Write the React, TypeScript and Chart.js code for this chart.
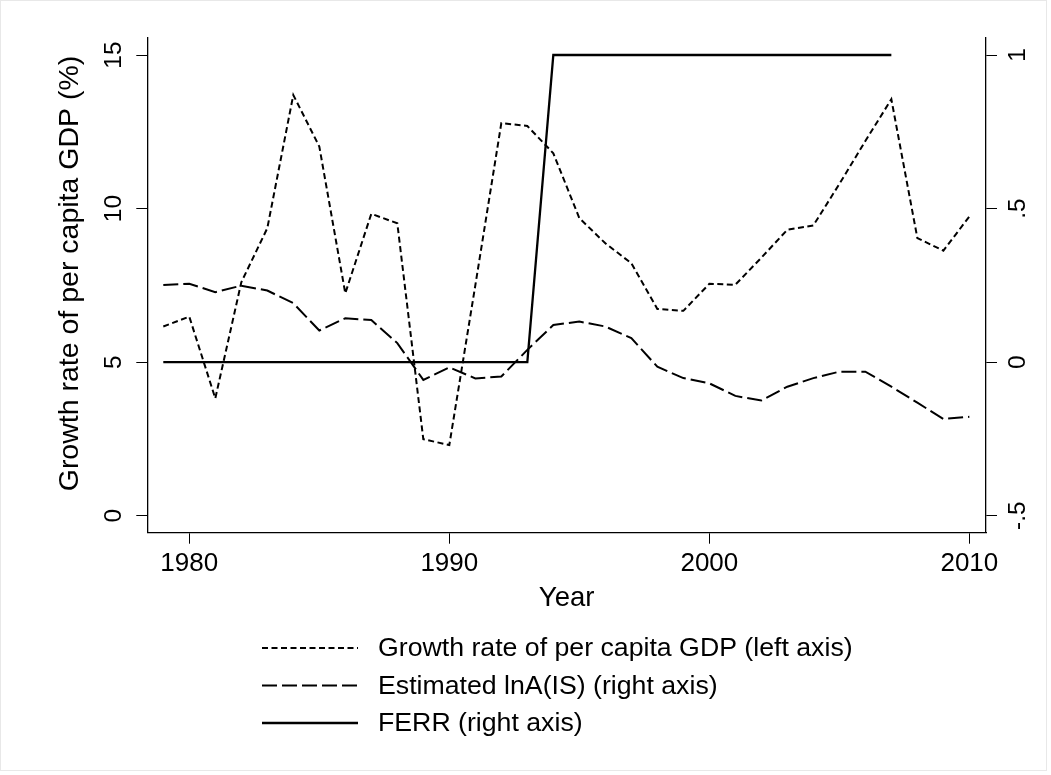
import React, { useEffect, useRef } from "react";
import { Chart, registerables } from "chart.js";

Chart.register(...registerables);

const years = [
  1979, 1980, 1981, 1982, 1983, 1984, 1985, 1986, 1987, 1988, 1989, 1990, 1991, 1992, 1993, 1994,
  1995, 1996, 1997, 1998, 1999, 2000, 2001, 2002, 2003, 2004, 2005, 2006, 2007, 2008, 2009, 2010,
];
const growthGDP = [
  6.16, 6.48, 3.82, 7.6, 9.36, 13.7, 12.02, 7.24, 9.83, 9.52, 2.49, 2.3, 7.5, 12.78, 12.69, 11.8,
  9.69, 8.87, 8.22, 6.73, 6.67, 7.55, 7.52, 8.4, 9.31, 9.45, 10.8, 12.2, 13.56, 9.04, 8.63, 9.74,
];
const lnAIS = [
  0.251, 0.255, 0.228, 0.249, 0.233, 0.192, 0.103, 0.143, 0.137, 0.062, -0.058, -0.017, -0.053, -0.047,
  0.04, 0.121, 0.132, 0.116, 0.078, -0.015, -0.052, -0.069, -0.11, -0.125, -0.08, -0.052, -0.031, -0.031,
  -0.08, -0.132, -0.185, -0.178,
];
const ferr = [
  0, 0, 0, 0, 0, 0, 0, 0, 0, 0, 0, 0, 0, 0, 0, 1, 1, 1, 1, 1, 1, 1, 1, 1, 1, 1, 1, 1, 1, null, null, null,
];
const seriesLabels = [
  "Growth rate of per capita GDP (left axis)",
  "Estimated lnA(IS) (right axis)",
  "FERR (right axis)",
];
const xTickValues = [1980, 1990, 2000, 2010];
const leftTickValues = [0, 5, 10, 15];
const rightTickValues = [-0.5, 0, 0.5, 1];
const rightTickLabels = ["-.5", "0", ".5", "1"];
const yTitle = "Growth rate of per capita GDP (%)";
const xTitle = "Year";

const FONT = '"Liberation Sans", Arial, Helvetica, sans-serif';

const decorPlugin = {
  id: "stataDecor",
  afterDraw(chart: any) {
    const ctx = chart.ctx;
    ctx.save();
    // outer graph region frame
    ctx.strokeStyle = "#e8e8e8";
    ctx.lineWidth = 1;
    ctx.strokeRect(0.5, 0.5, 1046, 770);
    // legend
    chart.data.datasets.forEach((ds: any, i: number) => {
      const y = 648 + i * 37.5;
      ctx.beginPath();
      ctx.setLineDash(ds.borderDash || []);
      ctx.lineWidth = ds.borderWidth;
      ctx.strokeStyle = "#000";
      ctx.moveTo(262, y);
      ctx.lineTo(358, y);
      ctx.stroke();
      ctx.setLineDash([]);
      ctx.font = "26.7px " + FONT;
      ctx.fillStyle = "#000";
      ctx.textBaseline = "middle";
      ctx.textAlign = "left";
      ctx.fillText(ds.label, 378, y + 1);
    });
    // left axis title
    ctx.translate(70, 273.5);
    ctx.rotate(-Math.PI / 2);
    ctx.font = "28.5px " + FONT;
    ctx.fillStyle = "#000";
    ctx.textAlign = "center";
    ctx.textBaseline = "middle";
    ctx.fillText(yTitle, 0, 0);
    ctx.restore();
  },
};

export default function App() {
  const ref = useRef<HTMLCanvasElement | null>(null);
  useEffect(() => {
    if (!ref.current) return;
    const mk = (arr: (number | null)[]) => years.map((x, i) => ({ x, y: arr[i] }));
    const chart = new Chart(ref.current, {
      type: "line",
      data: {
        datasets: [
          {
            label: seriesLabels[0],
            data: mk(growthGDP) as any,
            yAxisID: "y",
            borderColor: "#000",
            borderWidth: 2,
            borderDash: [6, 3.5],
            pointRadius: 0,
            tension: 0,
          },
          {
            label: seriesLabels[1],
            data: mk(lnAIS) as any,
            yAxisID: "y1",
            borderColor: "#000",
            borderWidth: 2,
            borderDash: [15, 5],
            pointRadius: 0,
            tension: 0,
          },
          {
            label: seriesLabels[2],
            data: mk(ferr) as any,
            yAxisID: "y1",
            borderColor: "#000",
            borderWidth: 2.3,
            pointRadius: 0,
            tension: 0,
            spanGaps: false,
          },
        ],
      },
      options: {
        responsive: false,
        animation: false,
        layout: { padding: { top: 38, left: 0, right: 0, bottom: 0 } },
        plugins: { legend: { display: false }, tooltip: { enabled: false } },
        scales: {
          x: {
            type: "linear",
            min: 1978.385,
            max: 2010.64,
            afterBuildTicks: (s: any) => {
              s.ticks = xTickValues.map((v) => ({ value: v }));
            },
            afterFit: (s: any) => {
              s.height = 242.3;
            },
            ticks: {
              color: "#000",
              font: { family: FONT, size: 26 },
              padding: 4.7,
              maxRotation: 0,
              minRotation: 0,
              callback: (v: any) => String(v),
            },
            grid: {
              display: true,
              drawOnChartArea: false,
              drawTicks: true,
              tickLength: 11,
              color: "#000",
              lineWidth: 1,
            },
            border: { display: true, color: "#000", width: 1.3 },
            title: {
              display: true,
              text: xTitle,
              color: "#000",
              font: { family: FONT, size: 27.5 },
              padding: { top: 0, bottom: 160.5 },
            },
          },
          y: {
            type: "linear",
            position: "left",
            min: -0.554,
            max: 15.554,
            afterBuildTicks: (s: any) => {
              s.ticks = leftTickValues.map((v) => ({ value: v }));
            },
            afterFit: (s: any) => {
              s.width = 147.3;
            },
            ticks: {
              color: "#000",
              font: { family: FONT, size: 24.5 },
              padding: 8,
              minRotation: 90,
              maxRotation: 90,
              crossAlign: "center",
              callback: (v: any) => String(v),
            },
            grid: {
              display: true,
              drawOnChartArea: false,
              drawTicks: true,
              tickLength: 11,
              color: "#000",
              lineWidth: 1,
            },
            border: { display: true, color: "#000", width: 1.3 },
            title: { display: false },
          },
          y1: {
            type: "linear",
            position: "right",
            min: -0.5554,
            max: 1.0554,
            afterBuildTicks: (s: any) => {
              s.ticks = rightTickValues.map((v) => ({ value: v }));
            },
            afterFit: (s: any) => {
              s.width = 65;
            },
            ticks: {
              color: "#000",
              font: { family: FONT, size: 24.5 },
              padding: 7,
              minRotation: 90,
              maxRotation: 90,
              crossAlign: "center",
              callback: (v: any) => {
                const i = rightTickValues.findIndex((t) => Math.abs(t - Number(v)) < 1e-9);
                return i >= 0 ? rightTickLabels[i] : "";
              },
            },
            grid: {
              display: true,
              drawOnChartArea: false,
              drawTicks: true,
              tickLength: 11,
              color: "#000",
              lineWidth: 1,
            },
            border: { display: true, color: "#000", width: 1.3 },
          },
        },
      } as any,
      plugins: [decorPlugin],
    });
    return () => chart.destroy();
  }, []);

  return (
    <div style={{ position: "absolute", left: 0, top: 0, width: 1051, height: 775, background: "#fff" }}>
      <canvas ref={ref} width={1051} height={775} style={{ display: "block", width: 1051, height: 775 }} />
    </div>
  );
}
